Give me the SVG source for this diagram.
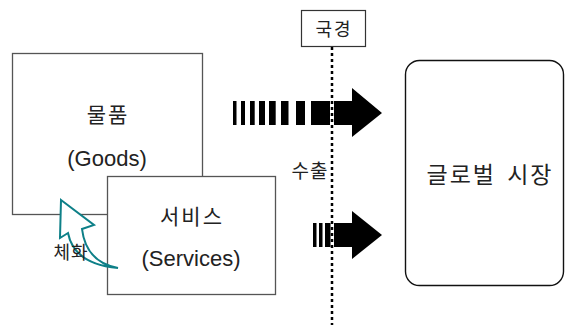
<svg xmlns="http://www.w3.org/2000/svg" width="565" height="325" viewBox="0 0 565 325">
<style>
.box{fill:#fff;stroke:#555;stroke-width:1.3}
.t{font-family:"Liberation Sans","Noto Sans CJK KR",sans-serif;fill:#222;text-anchor:middle;dominant-baseline:central}
.k{font-family:"Noto Sans CJK KR","Liberation Sans",sans-serif;fill:#222;text-anchor:middle;dominant-baseline:central}
.blk{fill:#000}
</style>
<g id="goods">
<rect class="box" x="12.5" y="53.5" width="190" height="161"/>
<text class="k" x="108" y="113" font-size="21" letter-spacing="2">물품</text>
<text class="t" x="107" y="158" font-size="22">(Goods)</text>
</g>
<g id="services">
<rect class="box" x="107.5" y="176.5" width="168" height="118"/>
<text class="k" x="192" y="215" font-size="21" letter-spacing="2">서비스</text>
<text class="t" x="191" y="258" font-size="22">(Services)</text>
</g>
<g id="border">
<rect x="301.5" y="10.5" width="64" height="36" fill="#fff" stroke="#333" stroke-width="1.2"/>
<text class="k" x="334" y="28" font-size="18" letter-spacing="2">국경</text>
</g>
<g id="market">
<rect x="405.5" y="60.5" width="158" height="225" rx="14" fill="#fff" stroke="#111" stroke-width="1.4"/>
<text class="k" x="490" y="173" font-size="23" letter-spacing="2" word-spacing="4">글로벌 시장</text>
</g>
<g id="connectors">
<g id="export-goods" class="blk">
<rect x="233" y="101" width="3.5" height="24"/>
<rect x="241" y="101" width="4" height="24"/>
<rect x="250" y="101" width="4.7" height="24"/>
<rect x="259" y="101" width="6" height="24"/>
<rect x="269" y="101" width="6.7" height="24"/>
<rect x="281" y="101" width="7.5" height="24"/>
<rect x="296" y="101" width="9" height="24"/>
<rect x="311" y="101" width="19" height="24"/>
<polygon points="334,101 352,101 352,88 382,113 352,137 352,125 334,125"/>
</g>
<g id="export-services" class="blk">
<rect x="313" y="223" width="3.5" height="24"/>
<rect x="319" y="223" width="3.5" height="24"/>
<rect x="325" y="223" width="5.5" height="24"/>
<polygon points="334,223 352,223 352,211 382,235 352,259 352,247 334,247"/>
</g>
<line x1="332" y1="47" x2="332" y2="325" stroke="#000" stroke-width="2.5" stroke-dasharray="3 3"/>
<path id="embody" d="M61,200 L94,225 L82,229 Q86,262 118,268 Q74,264 68,233 L60,238 Z" fill="#fff" stroke="#0e8088" stroke-width="2" stroke-linejoin="miter"/>
</g>
<text class="k" x="310" y="169" font-size="19" letter-spacing="1">수출</text>
<text class="k" x="71" y="251" font-size="18" letter-spacing="1">체화</text>
</svg>
